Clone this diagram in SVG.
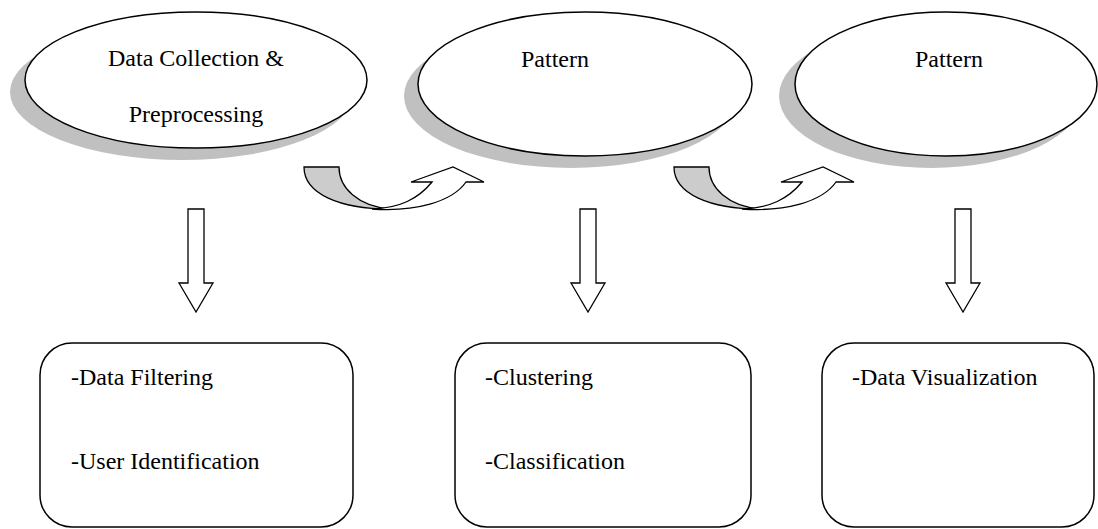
<svg xmlns="http://www.w3.org/2000/svg" width="1098" height="529" viewBox="0 0 1098 529">
<style>
.shadow{fill:#c0c0c0;stroke:none}
.node{fill:#ffffff;stroke:#000000;stroke-width:1.5}
.lbl{font-family:"Liberation Serif","Times New Roman",serif;font-size:24px;fill:#000000}
.mid{text-anchor:middle}
.arr{fill:#ffffff;stroke:#000000;stroke-width:1.3;stroke-linejoin:miter}
.back{fill:#cccccc;stroke:#000000;stroke-width:1.3}
</style>
<defs>
<g id="curved">
<path class="back" d="M304,167 L339,167 C339,188 358,206 390,209 C340,209 304,194 304,167 Z"/>
<path class="arr" d="M372,209 C415,212 452,202 466,182 L484,182 L453,167 L411,182 L432,182 C418,199 400,208 372,209 Z"/>
</g>
<path id="down" d="M-8,0 L8,0 L8,74 L17,74 L0,103 L-17,74 L-8,74 Z"/>
</defs>
<g id="node-collection">
<ellipse class="shadow" cx="182" cy="92" rx="172" ry="68"/>
<ellipse class="node" cx="196" cy="80" rx="171" ry="68"/>
<text class="lbl mid" x="196" y="66">Data Collection &amp;</text>
<text class="lbl mid" x="196" y="122">Preprocessing</text>
</g>
<g id="node-pattern1">
<ellipse class="shadow" cx="571" cy="96" rx="167" ry="72"/>
<ellipse class="node" cx="585" cy="84" rx="167" ry="72"/>
<text class="lbl mid" x="555" y="67">Pattern</text>
</g>
<g id="node-pattern2">
<ellipse class="shadow" cx="931" cy="96" rx="152" ry="72"/>
<ellipse class="node" cx="946" cy="84" rx="151" ry="72"/>
<text class="lbl mid" x="949" y="67">Pattern</text>
</g>
<g id="node-box1">
<rect class="node" x="40" y="343" width="313" height="184" rx="32" ry="32"/>
<text class="lbl" x="71" y="385">-Data Filtering</text>
<text class="lbl" x="71" y="469">-User Identification</text>
</g>
<g id="node-box2">
<rect class="node" x="455" y="343" width="296" height="184" rx="32" ry="32"/>
<text class="lbl" x="485" y="385">-Clustering</text>
<text class="lbl" x="485" y="469">-Classification</text>
</g>
<g id="node-box3">
<rect class="node" x="822" y="343" width="272" height="184" rx="32" ry="32"/>
<text class="lbl" x="852" y="385">-Data Visualization</text>
</g>
<g id="connectors">
<use href="#curved"/>
<use href="#curved" transform="translate(370,0)"/>
<use href="#down" class="arr" transform="translate(196,209)"/>
<use href="#down" class="arr" transform="translate(588,209)"/>
<use href="#down" class="arr" transform="translate(963,209)"/>
</g>
</svg>
